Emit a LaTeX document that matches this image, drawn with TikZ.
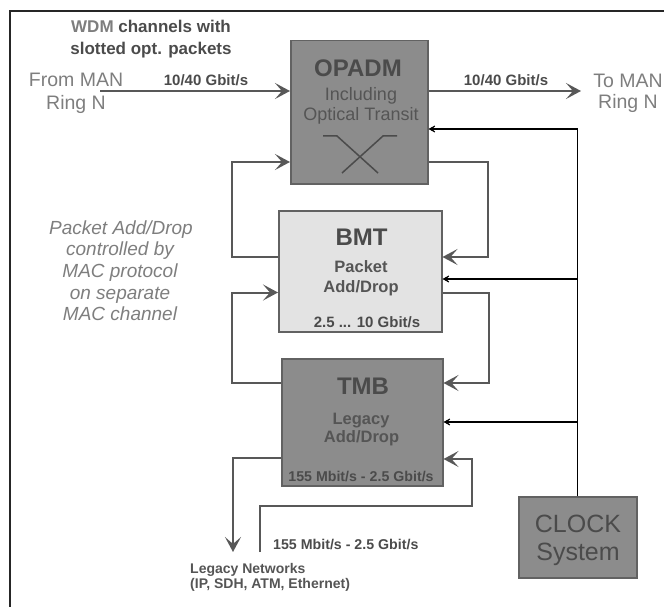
\documentclass[tikz,border=0pt]{standalone}
\usepackage{fontspec}
\setmainfont{Liberation Sans}
\usetikzlibrary{arrows.meta}
\definecolor{lblc}{HTML}{7E7E7E}
\definecolor{dkc}{HTML}{4B4B4B}
\definecolor{midc}{HTML}{555555}
\definecolor{lnc}{HTML}{585858}
\definecolor{boxd}{HTML}{8C8C8C}
\definecolor{boxl}{HTML}{E3E3E3}
\definecolor{bordc}{HTML}{626262}
\begin{document}
\begin{tikzpicture}[x=1pt,y=-1pt,
  box/.style={draw=bordc, line width=1.5pt, inner sep=0pt, anchor=north west},
  txt/.style={inner sep=0pt, anchor=base},
  gray19/.style={txt, text=lblc, font=\fontsize{19.5}{22}\selectfont},
  rate/.style={txt, text=dkc, font=\bfseries\fontsize{15}{18}\selectfont},
  title/.style={txt, text=dkc, font=\bfseries\fontsize{24}{28}\selectfont},
  sub/.style={txt, text=midc, font=\bfseries\fontsize{16.5}{20}\selectfont},
  gl/.style={draw=lnc, line width=2pt},
  garr/.style={gl, -{Stealth[length=15pt,width=16pt,inset=7pt]}},
  carr/.style={draw=black, line width=1.2pt, -{Stealth[length=10pt,width=11pt,inset=6.5pt]}},
  cl/.style={draw=black, line width=1.2pt}
]
\useasboundingbox (0,0) rectangle (664,607);
\begin{scope}
\clip (0,0) rectangle (664,607);
\draw[draw=black!85, line width=1.3pt] (10,11) rectangle (700,650);
\end{scope}

% boxes
\node[box, fill=boxd, minimum width=137pt, minimum height=143pt] (opadm) at (290,40) {};
\node[box, fill=boxl, minimum width=163pt, minimum height=121pt] (bmt) at (278,210) {};
\node[box, fill=boxd, minimum width=161pt, minimum height=127pt] (tmb) at (281,358) {};
\node[box, fill=boxd, minimum width=118pt, minimum height=81pt] (clock) at (518,496) {};

% top texts
\node[txt, text=dkc, font=\bfseries\fontsize{17}{20}\selectfont] (wdmA) at (151,33) {\textcolor{lblc}{WDM} channels with};
\node[txt, text=dkc, font=\bfseries\fontsize{17}{20}\selectfont] (wdmB) at (151,55) {slotted opt. packets};
\node[gray19] (fromA) at (76,87) {From MAN};
\node[gray19] (fromB) at (76,110) {Ring N};
\node[gray19] (toA) at (628,88) {To MAN};
\node[gray19] (toB) at (628,109) {Ring N};
\node[rate] (rateA) at (206,85.5) {10/40 Gbit/s};
\node[rate] (rateB) at (506,85.5) {10/40 Gbit/s};

% OPADM texts
\node[title] (opT) at (358,76.6) {OPADM};
\node[txt, text=midc, font=\fontsize{18}{20}\selectfont] (opS1) at (361,101) {Including};
\node[txt, text=midc, font=\fontsize{18}{20}\selectfont] (opS2) at (361,120.5) {Optical Transit};
\draw[draw=dkc, line width=1.5pt] (323,136) -- (337,136) -- (378,173);
\draw[draw=dkc, line width=1.5pt] (397,136) -- (383,136) -- (342,173);

% BMT texts
\node[title] (bmtT) at (361.5,245) {BMT};
\node[sub] (bmtS1) at (361,272.7) {Packet};
\node[sub] (bmtS2) at (361,292.5) {Add/Drop};
\node[rate] (bmtR) at (367,327.8) {2.5 ... 10 Gbit/s};

% TMB texts
\node[title] (tmbT) at (363,394) {TMB};
\node[sub] (tmbS1) at (361,424) {Legacy};
\node[sub] (tmbS2) at (361.5,442) {Add/Drop};
\node[rate, font=\bfseries\fontsize{14.2}{17}\selectfont] (tmbR) at (361,481) {155 Mbit/s - 2.5 Gbit/s};

% CLOCK texts
\node[txt, text=dkc, font=\fontsize{25}{28}\selectfont] (ckA) at (578,532.5) {CLOCK};
\node[txt, text=dkc, font=\fontsize{25}{28}\selectfont] (ckB) at (578,560) {System};

% left italic text
\begin{scope}[every node/.style={txt, text=lblc, font=\itshape\fontsize{19}{22}\selectfont}]
\node (pA) at (121,234) {Packet Add/Drop};
\node (pB) at (120,255.7) {controlled by};
\node (pC) at (120,277.3) {MAC protocol};
\node (pD) at (120,299) {on separate};
\node (pE) at (120,320.7) {MAC channel};
\end{scope}

% bottom texts
\node[rate, anchor=base west, font=\bfseries\fontsize{14.2}{17}\selectfont] (lowR) at (273,549) {155 Mbit/s - 2.5 Gbit/s};
\node[txt, anchor=base west, text=midc, font=\bfseries\fontsize{14}{16}\selectfont] (legA) at (190,573.3) {Legacy Networks};
\node[txt, anchor=base west, text=midc, font=\bfseries\fontsize{14}{16}\selectfont] (legB) at (190,588.5) {(IP, SDH, ATM, Ethernet)};

% coordinates
\coordinate (inS) at (100,91);
\coordinate (outE) at (581,91);
\coordinate (yA) at (0,129);
\coordinate (yB) at (0,279);
\coordinate (yC) at (0,422);
\coordinate (l1a) at (232,257);
\coordinate (l1b) at (232,162);
\coordinate (r1a) at (488,162);
\coordinate (r1b) at (488,257);
\coordinate (l2a) at (232,383);
\coordinate (l2b) at (232,292.5);
\coordinate (r2a) at (489,293);
\coordinate (r2b) at (489,383);
\coordinate (o1) at (233,458);
\coordinate (o2) at (233,552);
\coordinate (i1) at (260,552);
\coordinate (i2) at (260,506);
\coordinate (i3) at (472,506);
\coordinate (i4) at (472,459);

% main line
\draw[garr] (inS) -- (inS -| opadm.west);
\draw[garr] (outE -| opadm.east) -- (outE);

% clock lines
\draw[cl] (clock.north) -- (clock.north |- yA);
\draw[carr] (clock.north |- yA) -- (opadm.east |- yA);
\draw[carr] (clock.north |- yB) -- (bmt.east |- yB);
\draw[carr] (clock.north |- yC) -- (tmb.east |- yC);

% loops
\draw[garr] (bmt.west |- l1a) -- (l1a) -- (l1b) -- (opadm.west |- l1b);
\draw[garr] (opadm.east |- r1a) -- (r1a) -- (r1b) -- (bmt.east |- r1b);
\draw[garr] (tmb.west |- l2a) -- (l2a) -- (l2b) -- (bmt.west |- l2b);
\draw[garr] (bmt.east |- r2a) -- (r2a) -- (r2b) -- (tmb.east |- r2b);

% legacy
\draw[garr] (tmb.west |- o1) -- (o1) -- (o2);
\draw[garr] (i1) -- (i2) -- (i3) -- (i4) -- (tmb.east |- i4);
\end{tikzpicture}
\end{document}
